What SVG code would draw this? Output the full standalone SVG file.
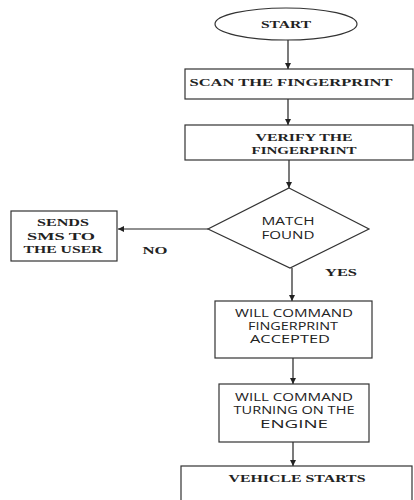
<svg xmlns="http://www.w3.org/2000/svg" width="414" height="500" viewBox="0 0 414 500">
<style>
.shape{fill:#fff;stroke:#333;stroke-width:1.2}
.serif{font-family:"Liberation Serif","Times New Roman",serif;font-weight:bold;font-size:11px;fill:#222;text-anchor:middle}
.sans{font-family:"Open Sans","Liberation Sans",Arial,sans-serif;font-size:10px;fill:#222;text-anchor:middle}
.conn{stroke:#222;stroke-width:1.2;fill:none;marker-end:url(#arr)}
</style>
<defs>
<marker id="arr" viewBox="0 0 10 10" refX="10" refY="5" markerWidth="6" markerHeight="6" markerUnits="userSpaceOnUse" orient="auto">
<path d="M0,0 L10,5 L0,10 z" fill="#222"/>
</marker>
</defs>
<rect width="414" height="500" fill="#fff"/>
<g id="connectors">
<line class="conn" x1="288" y1="40" x2="288" y2="69"/>
<line class="conn" x1="288" y1="99" x2="288" y2="125"/>
<line class="conn" x1="289" y1="160" x2="289" y2="188"/>
<line class="conn" x1="208" y1="229" x2="118" y2="229"/>
<line class="conn" x1="292" y1="268" x2="292" y2="301"/>
<line class="conn" x1="293" y1="358" x2="293" y2="384"/>
<line class="conn" x1="293" y1="442" x2="293" y2="466"/>
</g>
<g id="start">
<ellipse class="shape" cx="286" cy="24" rx="71" ry="16"/>
<text class="serif" x="286" y="28" textLength="50" lengthAdjust="spacingAndGlyphs">START</text>
</g>
<g id="scan">
<rect class="shape" x="185" y="69" width="228" height="30"/>
<text class="serif" x="291" y="86" textLength="203" lengthAdjust="spacingAndGlyphs">SCAN THE FINGERPRINT</text>
</g>
<g id="verify">
<rect class="shape" x="185" y="125" width="228" height="35"/>
<text class="serif" x="304" y="141" textLength="97" lengthAdjust="spacingAndGlyphs">VERIFY THE</text>
<text class="serif" x="304" y="154" textLength="105" lengthAdjust="spacingAndGlyphs">FINGERPRINT</text>
</g>
<g id="match">
<polygon class="shape" points="289,188 369,229 290,268 208,229"/>
<text class="sans" x="288" y="225" textLength="53" lengthAdjust="spacingAndGlyphs">MATCH</text>
<text class="sans" x="288" y="239" textLength="53" lengthAdjust="spacingAndGlyphs">FOUND</text>
</g>
<g id="sms">
<rect class="shape" x="11" y="211" width="106" height="50"/>
<text class="serif" x="63" y="226" textLength="52" lengthAdjust="spacingAndGlyphs">SENDS</text>
<text class="serif" x="61" y="240" textLength="68" lengthAdjust="spacingAndGlyphs">SMS TO</text>
<text class="serif" x="63" y="253" textLength="79" lengthAdjust="spacingAndGlyphs">THE USER</text>
</g>
<g id="labels">
<text class="serif" x="155" y="254" textLength="25" lengthAdjust="spacingAndGlyphs">NO</text>
<text class="serif" x="341" y="276" textLength="32" lengthAdjust="spacingAndGlyphs">YES</text>
</g>
<g id="accepted">
<rect class="shape" x="215" y="301" width="157" height="57"/>
<text class="sans" x="294" y="317" textLength="118" lengthAdjust="spacingAndGlyphs">WILL COMMAND</text>
<text class="sans" x="293" y="330" textLength="90" lengthAdjust="spacingAndGlyphs">FINGERPRINT</text>
<text class="sans" x="290" y="343" textLength="80" lengthAdjust="spacingAndGlyphs">ACCEPTED</text>
</g>
<g id="engine">
<rect class="shape" x="219" y="384" width="150" height="58"/>
<text class="sans" x="294" y="401" textLength="118" lengthAdjust="spacingAndGlyphs">WILL COMMAND</text>
<text class="sans" x="294" y="414" textLength="121" lengthAdjust="spacingAndGlyphs">TURNING ON THE</text>
<text class="sans" x="294" y="428" textLength="68" lengthAdjust="spacingAndGlyphs">ENGINE</text>
</g>
<g id="vehicle">
<rect class="shape" x="181" y="466" width="231" height="36"/>
<text class="serif" x="297" y="482" textLength="137" lengthAdjust="spacingAndGlyphs">VEHICLE STARTS</text>
</g>
</svg>
